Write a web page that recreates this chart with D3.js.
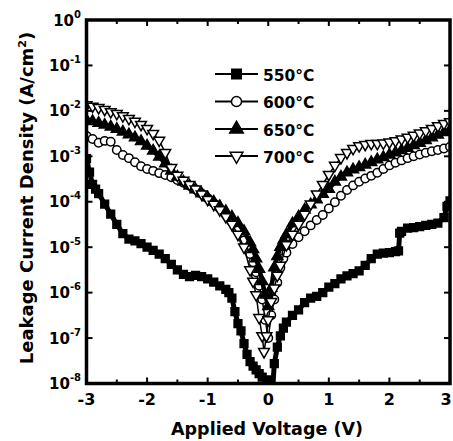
<!DOCTYPE html>
<html><head><meta charset="utf-8">
<script src="https://cdn.jsdelivr.net/npm/d3@7"></script>
<style>body{margin:0;background:#fff}</style>
</head><body><svg id="c" width="453" height="441"></svg>
<script>
// ---- data (voltage in V, log10 of current density in A/cm^2) ----
const xTickValues = [-3,-2,-1,0,1,2,3];
const yTickExponents = [0,-1,-2,-3,-4,-5,-6,-7,-8];
const seriesNames = ["550\u00B0C","600\u00B0C","650\u00B0C","700\u00B0C"];

const s550 = [[-3.0,-3.05],[-2.95,-3.35],[-2.9,-3.62],[-2.85,-3.72],[-2.8,-3.82],[-2.7,-4.05],[-2.6,-4.27],[-2.5,-4.50],[-2.4,-4.70],[-2.3,-4.82],[-2.2,-4.86],[-2.1,-4.92],[-2.0,-5.00],[-1.9,-5.07],[-1.8,-5.15],[-1.7,-5.25],[-1.6,-5.38],[-1.5,-5.50],[-1.4,-5.60],[-1.3,-5.65],[-1.2,-5.62],[-1.1,-5.65],[-1.0,-5.70],[-0.9,-5.77],[-0.8,-5.85],[-0.7,-5.93],[-0.65,-6.00],[-0.6,-6.12],[-0.55,-6.42],[-0.5,-6.68],[-0.45,-6.84],[-0.4,-7.12],[-0.35,-7.36],[-0.3,-7.52],[-0.25,-7.62],[-0.2,-7.70],[-0.15,-7.78],[-0.1,-7.86],[-0.03,-7.92],[0.06,-8.40],[0.1,-7.56],[0.15,-7.20],[0.2,-6.95],[0.25,-6.78],[0.3,-6.65],[0.4,-6.50],[0.5,-6.38],[0.6,-6.22],[0.7,-6.12],[0.8,-6.08],[0.9,-6.00],[1.0,-5.88],[1.1,-5.80],[1.2,-5.70],[1.3,-5.63],[1.4,-5.58],[1.5,-5.52],[1.6,-5.40],[1.7,-5.25],[1.8,-5.15],[1.9,-5.13],[2.0,-5.12],[2.1,-5.10],[2.15,-5.08],[2.17,-4.69],[2.2,-4.65],[2.3,-4.58],[2.4,-4.57],[2.5,-4.55],[2.6,-4.52],[2.7,-4.50],[2.8,-4.47],[2.9,-4.35],[2.95,-4.10],[3.0,-3.98]];

const s600 = [[-3.0,-2.55],[-2.9,-2.62],[-2.8,-2.70],[-2.7,-2.66],[-2.6,-2.68],[-2.5,-2.86],[-2.4,-2.97],[-2.3,-3.04],[-2.2,-3.13],[-2.1,-3.22],[-2.0,-3.28],[-1.9,-3.32],[-1.8,-3.37],[-1.7,-3.41],[-1.6,-3.46],[-1.5,-3.52],[-1.4,-3.58],[-1.3,-3.65],[-1.2,-3.73],[-1.1,-3.82],[-1.0,-3.92],[-0.9,-4.03],[-0.8,-4.15],[-0.7,-4.29],[-0.6,-4.45],[-0.5,-4.63],[-0.4,-4.85],[-0.3,-5.15],[-0.25,-5.33],[-0.2,-5.55],[-0.15,-5.85],[-0.1,-6.15],[-0.05,-6.60],[0.0,-7.00],[0.05,-6.50],[0.1,-6.15],[0.15,-5.78],[0.2,-5.45],[0.25,-5.25],[0.3,-5.12],[0.4,-4.93],[0.5,-4.78],[0.6,-4.65],[0.7,-4.52],[0.8,-4.40],[0.9,-4.29],[1.0,-4.15],[1.1,-4.01],[1.2,-3.87],[1.3,-3.74],[1.4,-3.64],[1.5,-3.56],[1.6,-3.49],[1.7,-3.43],[1.8,-3.36],[1.9,-3.28],[2.0,-3.20],[2.1,-3.14],[2.2,-3.09],[2.3,-3.04],[2.4,-3.00],[2.5,-2.96],[2.6,-2.92],[2.7,-2.89],[2.8,-2.86],[2.9,-2.83],[3.0,-2.79]];

const s650 = [[-3.0,-2.20],[-2.9,-2.23],[-2.8,-2.27],[-2.7,-2.31],[-2.6,-2.35],[-2.5,-2.40],[-2.4,-2.46],[-2.3,-2.52],[-2.2,-2.59],[-2.1,-2.67],[-2.0,-2.77],[-1.9,-2.88],[-1.8,-3.01],[-1.7,-3.16],[-1.6,-3.32],[-1.5,-3.45],[-1.4,-3.56],[-1.3,-3.65],[-1.2,-3.73],[-1.1,-3.82],[-1.0,-3.91],[-0.9,-4.00],[-0.8,-4.10],[-0.7,-4.21],[-0.6,-4.33],[-0.5,-4.47],[-0.4,-4.65],[-0.3,-4.90],[-0.25,-5.05],[-0.2,-5.25],[-0.15,-5.48],[-0.1,-5.75],[-0.05,-6.05],[0.0,-6.30],[0.05,-5.90],[0.1,-5.45],[0.15,-5.20],[0.2,-5.00],[0.25,-4.85],[0.3,-4.72],[0.4,-4.48],[0.5,-4.33],[0.6,-4.18],[0.7,-4.06],[0.8,-3.95],[0.9,-3.83],[1.0,-3.72],[1.1,-3.56],[1.2,-3.45],[1.3,-3.36],[1.4,-3.29],[1.5,-3.24],[1.6,-3.19],[1.7,-3.13],[1.8,-3.07],[1.9,-3.02],[2.0,-2.97],[2.1,-2.92],[2.2,-2.87],[2.3,-2.82],[2.4,-2.76],[2.5,-2.71],[2.6,-2.65],[2.7,-2.59],[2.8,-2.53],[2.9,-2.47],[3.0,-2.42]];

const s700 = [[-3.0,-1.87],[-2.9,-1.90],[-2.8,-1.93],[-2.7,-1.97],[-2.6,-2.02],[-2.5,-2.06],[-2.4,-2.11],[-2.3,-2.17],[-2.2,-2.23],[-2.1,-2.30],[-2.0,-2.39],[-1.9,-2.50],[-1.8,-2.65],[-1.7,-2.92],[-1.6,-3.25],[-1.5,-3.42],[-1.4,-3.53],[-1.3,-3.62],[-1.2,-3.72],[-1.1,-3.83],[-1.0,-3.95],[-0.9,-4.06],[-0.8,-4.18],[-0.7,-4.33],[-0.6,-4.50],[-0.5,-4.72],[-0.4,-5.00],[-0.3,-5.50],[-0.25,-5.75],[-0.2,-6.05],[-0.15,-6.55],[-0.1,-6.95],[-0.07,-7.30],[-0.03,-6.95],[0.0,-6.60],[0.05,-6.20],[0.1,-5.90],[0.15,-5.62],[0.2,-5.40],[0.3,-4.95],[0.4,-4.72],[0.5,-4.50],[0.6,-4.28],[0.7,-4.05],[0.8,-3.83],[0.9,-3.62],[1.0,-3.40],[1.1,-3.20],[1.2,-3.03],[1.3,-2.92],[1.4,-2.83],[1.5,-2.77],[1.6,-2.74],[1.7,-2.72],[1.8,-2.72],[1.9,-2.71],[2.0,-2.69],[2.1,-2.66],[2.2,-2.62],[2.3,-2.58],[2.4,-2.54],[2.5,-2.49],[2.6,-2.44],[2.7,-2.39],[2.8,-2.33],[2.9,-2.28],[3.0,-2.24]];

// ---- drawing ----
const FONT = "'DejaVu Sans', 'Liberation Sans', sans-serif";
const svg = d3.select("#c");
const L = 86.5, R = 450, T = 20, B = 383.5;
const x = d3.scaleLinear().domain([-3, 3]).range([L, R]);
const y = d3.scaleLog().domain([1e-8, 1]).range([B, T]);

svg.append("defs").append("clipPath").attr("id", "plot")
  .append("rect").attr("x", L).attr("y", T).attr("width", R - L).attr("height", B - T);

const down = { draw(ctx, size) {
  const s = Math.sqrt(size * 4 / Math.sqrt(3)), h = s * Math.sqrt(3) / 2;
  ctx.moveTo(-s/2, -h/3); ctx.lineTo(s/2, -h/3); ctx.lineTo(0, 2*h/3); ctx.closePath(); } };
const up = { draw(ctx, size) {
  const s = Math.sqrt(size * 4 / Math.sqrt(3)), h = s * Math.sqrt(3) / 2;
  ctx.moveTo(-s/2, h/3); ctx.lineTo(s/2, h/3); ctx.lineTo(0, -2*h/3); ctx.closePath(); } };

const series = [
  { data: s550, type: d3.symbolSquare, size: 60, fill: "#000", lw: 5 },
  { data: s600, type: d3.symbolCircle, size: 56, fill: "#fff", lw: 1.5 },
  { data: s650, type: up, size: 52, fill: "#000", lw: 4.5 },
  { data: s700, type: down, size: 50, fill: "#fff", lw: 1.5 }
];

const g = svg.append("g").attr("clip-path", "url(#plot)");
const line = d3.line().x(d => x(d[0])).y(d => y(Math.pow(10, d[1])));
series.forEach(s => {
  g.append("path").attr("d", line(s.data)).attr("fill", "none")
    .attr("stroke", "#000").attr("stroke-width", s.lw).attr("stroke-linejoin", "round");
  g.selectAll(null).data(s.data).enter().append("path")
    .attr("transform", d => `translate(${x(d[0])},${y(Math.pow(10, d[1]))})`)
    .attr("d", d3.symbol().type(s.type).size(s.size))
    .attr("fill", s.fill).attr("stroke", "#000").attr("stroke-width", 1.5);
});

// frame
svg.append("rect").attr("x", L).attr("y", T).attr("width", R - L).attr("height", B - T)
  .attr("fill", "none").attr("stroke", "#000").attr("stroke-width", 3.5);

// ticks (inward)
const xMinor = d3.range(-2.5, 3, 1);
const tick = (x1, y1, x2, y2) => svg.append("line").attr("x1", x1).attr("y1", y1)
  .attr("x2", x2).attr("y2", y2).attr("stroke", "#000").attr("stroke-width", 2);
xTickValues.forEach(v => { tick(x(v), B, x(v), B - 6); tick(x(v), T, x(v), T + 6); });
xMinor.forEach(v => { tick(x(v), B, x(v), B - 4); tick(x(v), T, x(v), T + 4); });
yTickExponents.forEach(e => {
  const yy = y(Math.pow(10, e));
  tick(L, yy, L + 6, yy); tick(R, yy, R - 6, yy);
});

// x tick labels
svg.selectAll(null).data(xTickValues).enter().append("text")
  .attr("x", d => Math.min(x(d), 446)).attr("y", 405).attr("text-anchor", "middle")
  .attr("font-family", FONT).attr("font-weight", "bold").attr("font-size", 16)
  .text(d => d < 0 ? "-" + Math.abs(d) : String(d));

// y tick labels
yTickExponents.forEach(e => {
  const t = svg.append("text").attr("x", 81).attr("y", y(Math.pow(10, e)) + 5.5)
    .attr("text-anchor", "end").attr("font-family", FONT).attr("font-weight", "bold").attr("font-size", 15);
  t.append("tspan").text("10");
  t.append("tspan").attr("dy", -8).attr("font-size", 10).text(e < 0 ? "-" + Math.abs(e) : String(e));
});

// axis titles
svg.append("text").attr("x", 267).attr("y", 435).attr("text-anchor", "middle")
  .attr("font-family", FONT).attr("font-weight", "bold").attr("font-size", 17.5)
  .text("Applied Voltage (V)");
const yl = svg.append("text").attr("transform", "translate(33,198) rotate(-90)")
  .attr("text-anchor", "middle").attr("font-family", FONT).attr("font-weight", "bold").attr("font-size", 18);
yl.append("tspan").text("Leakage Current Density (A/cm");
yl.append("tspan").attr("dy", -7).attr("font-size", 11).text("2");
yl.append("tspan").attr("dy", 7).text(")");

// legend
const legRows = [74, 101.5, 129, 156];
const legSizes = [90, 80, 80, 70];
series.forEach((s, i) => {
  const yy = legRows[i];
  svg.append("line").attr("x1", 215).attr("x2", 258).attr("y1", yy).attr("y2", yy)
    .attr("stroke", "#000").attr("stroke-width", 2);
  svg.append("path").attr("transform", `translate(236.5,${yy})`)
    .attr("d", d3.symbol().type(s.type).size(legSizes[i]))
    .attr("fill", s.fill).attr("stroke", "#000").attr("stroke-width", 1.5);
  svg.append("text").attr("x", 263).attr("y", yy + 6.5)
    .attr("font-family", FONT).attr("font-weight", "bold").attr("font-size", 15.5)
    .text(seriesNames[i]);
});
</script></body></html>
